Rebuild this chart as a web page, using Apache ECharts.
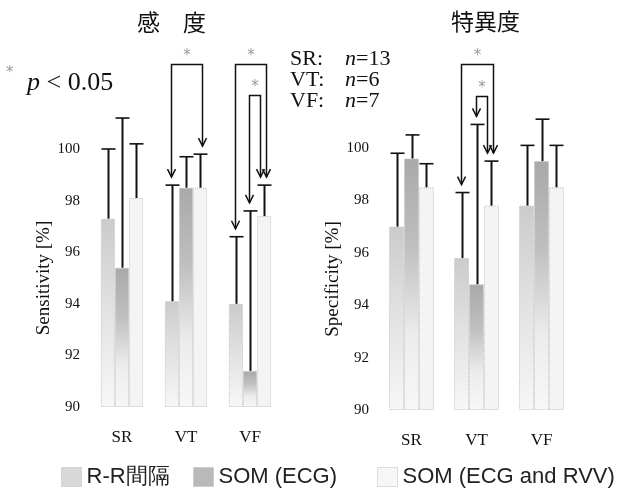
<!DOCTYPE html>
<html><head><meta charset="utf-8">
<script src="https://cdn.jsdelivr.net/npm/echarts@6/dist/echarts.min.js"></script>
<style>html,body{margin:0;padding:0;background:#fff}#c{width:619px;height:493px}</style>
</head><body><div id="c"></div>
<script>
const categories = ['SR', 'VT', 'VF'];
const seriesNames = ['R-R間隔', 'SOM (ECG)', 'SOM (ECG and RVV)'];
const nCounts = [13, 6, 7];
// Sensitivity [%] : bar means and error-bar tops
const sensRR = [97.3, 94.1, 94.0];
const sensECG = [95.4, 98.5, 91.4];
const sensRVV = [98.1, 98.5, 97.4];
const sensRRTop = [100.0, 98.6, 96.6];
const sensECGTop = [101.2, 99.7, 97.6];
const sensRVVTop = [100.2, 99.8, 98.6];
// Specificity [%]
const specRR = [97.0, 95.8, 97.8];
const specECG = [99.6, 94.8, 99.5];
const specRVV = [98.5, 97.8, 98.5];
const specRRTop = [99.8, 98.3, 100.1];
const specECGTop = [100.5, 100.9, 101.1];
const specRVVTop = [99.4, 99.5, 100.1];
// significance brackets: [category index, from bar, to bar, bracket level (axis units)]
const sensSig = [[1, 0, 2, 103.3], [2, 0, 2, 103.3], [2, 1, 2, 102.1]];
const specSig = [[1, 0, 2, 103.2], [1, 1, 2, 102.0]];
const yMin = 90, yMax = 100, yStep = 2;

const SERIF = 'Liberation Serif';
const chart = echarts.init(document.getElementById('c'));

const fills = [
  {type: 'linear', x: 0, y: 0, x2: 0, y2: 1, colorStops: [
    {offset: 0, color: '#cbcbcb'}, {offset: 0.4, color: '#dedede'}, {offset: 1, color: '#f7f7f7'}]},
  {type: 'linear', x: 0, y: 0, x2: 0, y2: 1, colorStops: [
    {offset: 0, color: '#a9a9a9'}, {offset: 0.35, color: '#bfbfbf'}, {offset: 0.7, color: '#ececec'}, {offset: 1, color: '#f7f7f7'}]},
  '#f4f4f4'
];
const legendColors = ['#d8d8d8', '#b9b9b9', '#f6f6f6'];

function errRender(gap) {
  return function (params, api) {
    const cat = api.value(0), bi = api.value(1), v = api.value(2), top = api.value(3);
    const band = api.size([1, 0])[0];
    const bw = band * (1 - gap) / 3;
    const p0 = api.coord([cat, v]);
    const p1 = api.coord([cat, top]);
    const x = Math.round(p0[0] + (bi - 1) * bw) + 0.5;
    return {type: 'group', children: [
      {type: 'line', shape: {x1: x, y1: p0[1], x2: x, y2: p1[1]}, style: {stroke: '#111', lineWidth: 2}},
      {type: 'line', shape: {x1: x - 7, y1: p1[1], x2: x + 7, y2: p1[1]}, style: {stroke: '#111', lineWidth: 1.6}}
    ]};
  };
}

function sigRender(gap, tops) {
  return function (params, api) {
    const cat = api.value(0), a = api.value(1), b = api.value(2), lvl = api.value(3), nest = api.value(4);
    const band = api.size([1, 0])[0];
    const bw = band * (1 - gap) / 3;
    const cx = api.coord([cat, yMin])[0];
    const xa = Math.round(cx + (a - 1) * bw - 1) + 0.5;
    const xb = Math.round(cx + (b - 1) * bw + (nest ? -4 : 2)) + 0.5;
    const yTop = Math.round(api.coord([cat, lvl])[1]) + 0.5;
    const ya = api.coord([cat, tops[a][cat]])[1] - 8;
    const yb = api.coord([cat, tops[b][cat]])[1] - 8;
    const st = {stroke: '#111', lineWidth: 1.5, fill: null};
    const head = (x, y) => ({type: 'polyline', shape: {points: [[x - 4, y - 8], [x, y], [x + 4, y - 8]]}, style: st});
    return {type: 'group', children: [
      {type: 'polyline', shape: {points: [[xa, ya], [xa, yTop], [xb, yTop], [xb, yb]]}, style: st},
      head(xa, ya), head(xb, yb),
      {type: 'text', style: {text: '*', x: (xa + xb) / 2, y: yTop - 8, fill: '#999', font: '15px DejaVu Sans', align: 'center', verticalAlign: 'middle'}}
    ]};
  };
}

function sigData(sig) {
  return sig.map(s => {
    const maxLvl = Math.max(...sig.filter(t => t[0] === s[0]).map(t => t[3]));
    return [s[0], s[1], s[2], s[3], s[3] < maxLvl ? 1 : 0];
  });
}
function errData(means, tops) {
  const out = [];
  means.forEach((m, bi) => m.forEach((v, ci) => out.push([ci, bi, v, tops[bi][ci]])));
  return out;
}

const panels = [
  {means: [sensRR, sensECG, sensRVV], tops: [sensRRTop, sensECGTop, sensRVVTop], sig: sensSig, gap: 0.34, name: 'Sensitivity [%]', nameGap: 25},
  {means: [specRR, specECG, specRVV], tops: [specRRTop, specECGTop, specRVVTop], sig: specSig, gap: 0.31, name: 'Specificity [%]', nameGap: 26}
];

const series = [];
panels.forEach((p, gi) => {
  p.means.forEach((m, bi) => {
    series.push({
      type: 'bar', name: seriesNames[bi], xAxisIndex: gi, yAxisIndex: gi, data: m,
      barGap: '0%', barCategoryGap: (p.gap * 100) + '%',
      itemStyle: {color: fills[bi], borderColor: '#c2c2c2', borderWidth: 1, borderType: 'dotted'},
      emphasis: {disabled: true}, z: 2
    });
  });
  series.push({type: 'custom', xAxisIndex: gi, yAxisIndex: gi, renderItem: errRender(p.gap),
    data: errData(p.means, p.tops), encode: {x: 0, y: 2}, clip: false, z: 3, silent: true});
  series.push({type: 'custom', xAxisIndex: gi, yAxisIndex: gi, renderItem: sigRender(p.gap, p.tops),
    data: sigData(p.sig), encode: {x: 0, y: 3}, clip: false, z: 4, silent: true});
});

const grids = [
  {left: 90, width: 192, top: 149, height: 258, outerBoundsMode: 'none'},
  {left: 379, width: 195, top: 148, height: 262, outerBoundsMode: 'none'}
];

const option = {
  animation: false,
  grid: grids,
  xAxis: grids.map((g, i) => ({
    type: 'category', gridIndex: i, data: categories,
    axisLine: {show: false}, axisTick: {show: false},
    axisLabel: {fontFamily: SERIF, fontSize: 17, color: '#111', margin: 22}
  })),
  yAxis: panels.map((p, i) => ({
    type: 'value', gridIndex: i, min: yMin, max: yMax, interval: yStep, startValue: yMin,
    name: p.name, nameLocation: 'middle', nameRotate: 90, nameGap: p.nameGap,
    nameTextStyle: {fontFamily: SERIF, fontSize: 19, color: '#111'},
    axisLine: {show: false}, axisTick: {show: false}, splitLine: {show: false},
    axisLabel: {fontFamily: SERIF, fontSize: 15, color: '#111', margin: 10}
  })),
  legend: seriesNames.map((n, i) => ({
    data: [{name: n, itemStyle: {color: legendColors[i], borderColor: '#bdbdbd', borderWidth: 1, borderType: 'dotted'}}],
    left: [61, 193, 377][i], top: 466, icon: 'rect', itemWidth: 20, itemHeight: 19,
    selectedMode: false, padding: 0,
    textStyle: {fontFamily: 'Liberation Sans', fontSize: 22, color: '#222'}
  })),
  graphic: [
    {type: 'text', left: 137, top: 11, style: {text: '感　度', font: '23px "Noto Sans CJK JP"', fill: '#111'}},
    {type: 'text', left: 451, top: 10, style: {text: '特異度', font: '23px "Noto Sans CJK JP"', fill: '#111'}},
    {type: 'text', left: 6, top: 66, style: {text: '*', font: '15px DejaVu Sans', fill: '#999'}},
    {type: 'text', left: 27, top: 70, style: {text: '{i|p} < 0.05', font: '26px ' + SERIF, fill: '#111',
      rich: {i: {fontStyle: 'italic', fontFamily: SERIF, fontSize: 26}}}},
    ...categories.map((c, i) => ({type: 'text', left: 290, top: 48 + i * 21,
      style: {text: c + ':', font: '22px ' + SERIF, fill: '#111'}})),
    ...nCounts.map((n, i) => ({type: 'text', left: 345, top: 48 + i * 21,
      style: {text: '{i|n}=' + n, font: '22px ' + SERIF, fill: '#111',
        rich: {i: {fontStyle: 'italic', fontFamily: SERIF, fontSize: 22}}}}))
  ],
  series: series
};
chart.setOption(option);
</script></body></html>
